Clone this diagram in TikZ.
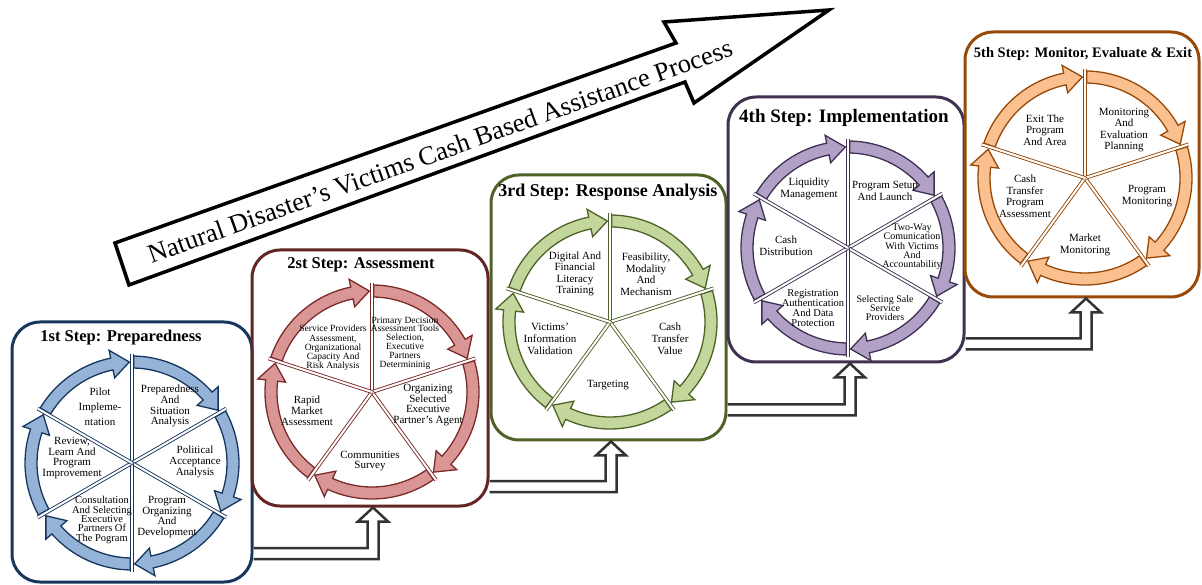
\documentclass[tikz,border=0pt]{standalone}
\usepackage{fontspec}
\setmainfont{Liberation Serif}
\usetikzlibrary{calc}

\definecolor{navyline}{HTML}{17365D}
\definecolor{navyfill}{HTML}{95B3D7}
\definecolor{redline}{HTML}{632523}
\definecolor{redring}{HTML}{7A2B2A}
\definecolor{redfill}{HTML}{D99694}
\definecolor{greenline}{HTML}{4F6228}
\definecolor{greenfill}{HTML}{C3D69B}
\definecolor{purpleline}{HTML}{3F3151}
\definecolor{purplefill}{HTML}{B2A1C7}
\definecolor{brownline}{HTML}{984807}
\definecolor{brownfill}{HTML}{FAC090}
\definecolor{linkgray}{HTML}{333333}

% wheel of curved arrows: centre, number of parts, fill, line
\newcommand{\drawwheel}[4]{%
  \foreach \k in {1,...,#2}{%
    \pgfmathsetmacro{\aS}{90-(\k-1)*360/#2-1}
    \pgfmathsetmacro{\aE}{90-\k*360/#2+1.5}
    \pgfmathsetmacro{\aH}{\aE+10}
    \draw[ringarrow,fill=#3,draw=#4,shift={(#1)}]
      (\aS:107) arc[start angle=\aS,end angle=\aH,radius=107]
      -- (\aH:115) -- (\aE:101) -- (\aH:87) -- (\aH:95)
      arc[start angle=\aH,end angle=\aS,radius=95] -- cycle;
  }
  \foreach \k in {1,...,#2}{%
    \draw[divider,draw=#4,shift={(#1)}] (0,0) -- ({90-(\k-1)*360/#2}:109);
  }}

% hollow elbow arrow from one box to the next
\newcommand{\linkarrow}[2]{%
  \draw[linkline] let \p1=(#1), \p2=(#2) in
    (\x1,\y1+5.5pt) -- (\x2-5.5pt,\y1+5.5pt) -- (\x2-5.5pt,\y2-14pt)
    -- (\x2-15pt,\y2-14pt) -- (\x2,\y2) -- (\x2+15pt,\y2-14pt)
    -- (\x2+5.5pt,\y2-14pt) -- (\x2+5.5pt,\y1-5.5pt) -- (\x1,\y1-5.5pt);}

\begin{document}
\begin{tikzpicture}
[x=1pt,y=1pt,
  stepbox/.style={rounded corners=28pt,line width=3pt,minimum width=#1},
  steptitle/.style={font=\bfseries\fontsize{16.5}{16.5}\selectfont,inner sep=0pt},
  seglabel/.style={align=center,inner sep=0pt,font=\fontsize{11}{10.8}\selectfont},
  smalllabel/.style={seglabel,font=\fontsize{9.5}{9.2}\selectfont},
  ringarrow/.style={line width=1.3pt,line join=miter},
  divider/.style={line width=0.9pt,double=white,double distance=2pt},
  linkline/.style={draw=linkgray,fill=white,line width=2.5pt,line join=miter}]
\useasboundingbox (0,0) rectangle (1202,584);
% big process arrow
\draw[line width=3.5pt,line join=miter,fill=white]
  (115,341) -- (676,541) -- (664,562) -- (829,574) -- (694,481)
  -- (685,502) -- (129,299) -- cycle;
\node[rotate=19.7,font=\fontsize{26.5}{26.5}\selectfont] (process) at (440,433)
  {Natural Disaster’s Victims Cash Based Assistance Process};
% step boxes
\node[stepbox=240pt,minimum height=260pt,draw=navyline] (box1) at (132,132) {};
\node[stepbox=236pt,minimum height=256pt,draw=redline] (box2) at (370,206) {};
\node[stepbox=235pt,minimum height=265pt,draw=greenline] (box3) at (608.5,276.5) {};
\node[stepbox=236pt,minimum height=265pt,draw=purpleline] (box4) at (846,354.5) {};
\node[stepbox=234pt,minimum height=265pt,draw=brownline] (box5) at (1082,419.5) {};
% titles
\node[steptitle] (t1) at (121,246) {1st Step: Preparedness};
\node[steptitle,font=\bfseries\fontsize{16.5}{16.5}\selectfont] (t2) at (361,319) {2st Step: Assessment};
\node[steptitle,font=\bfseries\fontsize{18}{18}\selectfont] (t3) at (608,392) {3rd Step: Response Analysis};
\node[steptitle,font=\bfseries\fontsize{19}{19}\selectfont] (t4) at (844,466) {4th Step: Implementation};
\node[steptitle,font=\bfseries\fontsize{14.5}{14.5}\selectfont] (t5) at (1083,530) {5th Step: Monitor, Evaluate \& Exit};
% links between boxes
\coordinate (s1) at ($(box1.south east)+(0,30)$);
\coordinate (e1) at ($(box2.south)+(3,0)$);
\coordinate (s2) at ($(box2.south east)+(0,21)$);
\coordinate (e2) at ($(box3.south)+(2.5,0)$);
\coordinate (s3) at ($(box3.south east)+(0,31.5)$);
\coordinate (e3) at ($(box4.south)+(4,0)$);
\coordinate (s4) at ($(box4.south east)+(0,19.5)$);
\coordinate (e4) at ($(box5.south)+(4,0)$);
\linkarrow{s1}{e1}
\linkarrow{s2}{e2}
\linkarrow{s3}{e3}
\linkarrow{s4}{e4}
% wheels
\coordinate (c1) at (132,121);
\coordinate (c2) at (372,192);
\coordinate (c3) at (610,262);
\coordinate (c4) at (848,336);
\coordinate (c5) at (1085,406);
\drawwheel{c1}{6}{navyfill}{navyline}
\drawwheel{c2}{5}{redfill}{redring}
\drawwheel{c3}{5}{greenfill}{greenline}
\drawwheel{c4}{6}{purplefill}{purpleline}
\drawwheel{c5}{5}{brownfill}{brownline}
% step 1 parts
\node[seglabel,font=\fontsize{11}{15}\selectfont] (a1) at ($(c1)+(-32,56)$) {Pilot\\Impleme-\\ntation};
\node[seglabel] (a2) at ($(c1)+(38,57)$) {Preparedness\\And\\Situation\\Analysis};
\node[seglabel] (a3) at ($(c1)+(63,1)$) {Political\\Acceptance\\Analysis};
\node[seglabel] (a4) at ($(c1)+(35,-54)$) {Program\\Organizing\\And\\Development};
\node[seglabel,font=\fontsize{10.5}{9.4}\selectfont] (a5) at ($(c1)+(-30,-57)$) {Consultation\\And Selecting\\Executive\\Partners Of\\The Pogram};
\node[seglabel] (a6) at ($(c1)+(-60,5)$) {Review,\\Learn And\\Program\\Improvement};
% step 2 parts
\node[smalllabel] (b1) at ($(c2)+(-39,44)$) {Service Providers\\Assessment,\\Organizational\\Capacity And\\Risk Analysis};
\node[smalllabel,font=\fontsize{9.5}{8.8}\selectfont] (b2) at ($(c2)+(33,49)$) {Primary Decision\\Assessment Tools\\Selection,\\Executive\\Partners\\Determininig};
\node[seglabel] (b3) at ($(c2)+(56,-13)$) {Organizing\\Selected\\Executive\\Partner’s Agent};
\node[seglabel] (b4) at ($(c2)+(-2,-69)$) {Communities\\Survey};
\node[seglabel] (b5) at ($(c2)+(-65,-19)$) {Rapid\\Market\\Assessment};
% step 3 parts
\node[seglabel,font=\fontsize{11}{11.5}\selectfont] (d1) at ($(c3)+(-35,48)$) {Digital And\\Financial\\Literacy\\Training};
\node[seglabel,font=\fontsize{11}{11.5}\selectfont] (d2) at ($(c3)+(36,48)$) {Feasibility,\\Modality\\And\\Mechanism};
\node[seglabel,font=\fontsize{11}{12}\selectfont] (d3) at ($(c3)+(60,-17)$) {Cash\\Transfer\\Value};
\node[seglabel] (d4) at ($(c3)+(-2,-63)$) {Targeting};
\node[seglabel,font=\fontsize{11}{12}\selectfont] (d5) at ($(c3)+(-60,-17)$) {Victims’\\Information\\Validation};
% step 4 parts
\node[seglabel,font=\fontsize{11}{12}\selectfont] (f1) at ($(c4)+(-39,59)$) {Liquidity\\Management};
\node[seglabel,font=\fontsize{11}{12}\selectfont] (f2) at ($(c4)+(37,57)$) {Program Setup\\And Launch};
\node[seglabel,font=\fontsize{10}{9.2}\selectfont] (f3) at ($(c4)+(64,1)$) {Two-Way\\Comunication\\With Victims\\And\\Accountability};
\node[seglabel,font=\fontsize{10}{9}\selectfont] (f4) at ($(c4)+(37,-60)$) {Selecting Sale\\Service\\Providers};
\node[seglabel,font=\fontsize{10.5}{10}\selectfont] (f5) at ($(c4)+(-35,-60)$) {Registration\\Authentication\\And Data\\Protection};
\node[seglabel,font=\fontsize{11}{12}\selectfont] (f6) at ($(c4)+(-62,2)$) {Cash\\Distribution};
% step 5 parts
\node[seglabel,font=\fontsize{11}{11.5}\selectfont] (g1) at ($(c5)+(-40,48)$) {Exit The\\Program\\And Area};
\node[seglabel,font=\fontsize{11}{11.5}\selectfont] (g2) at ($(c5)+(39,48)$) {Monitoring\\And\\Evaluation\\Planning};
\node[seglabel,font=\fontsize{11}{12}\selectfont] (g3) at ($(c5)+(62,-18)$) {Program\\Monitoring};
\node[seglabel,font=\fontsize{11}{12}\selectfont] (g4) at ($(c5)+(0,-67)$) {Market\\Monitoring};
\node[seglabel,font=\fontsize{11}{11.5}\selectfont] (g5) at ($(c5)+(-60,-18)$) {Cash\\Transfer\\Program\\Assessment};
\end{tikzpicture}
\end{document}
